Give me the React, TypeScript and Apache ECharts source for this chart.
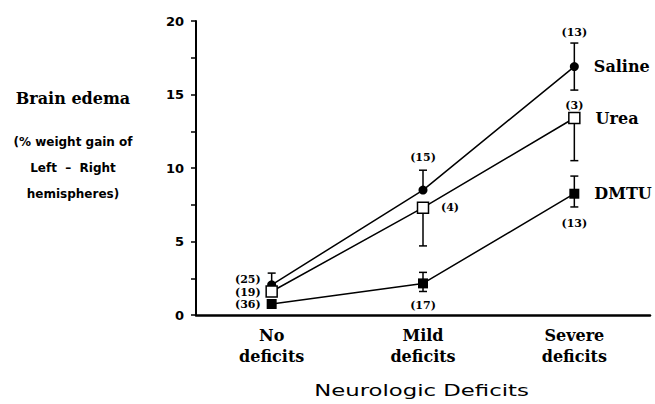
import React, { useEffect, useRef } from "react";
import * as echarts from "echarts";

const categories = ["No\ndeficits", "Mild\ndeficits", "Severe\ndeficits"];
const yTickValues = { min: 0, max: 20, interval: 5 };

const salineMean = [2.05, 8.5, 16.9];
const salineUpper = [2.85, 9.85, 18.5];
const salineLower: (number | null)[] = [null, null, 15.3];
const salineN = ["(25)", "(15)", "(13)"];

const ureaMean = [1.6, 7.3, 13.4];
const ureaUpper: (number | null)[] = [null, null, null];
const ureaLower: (number | null)[] = [null, 4.7, 10.5];
const ureaN = ["(19)", "(4)", "(3)"];

const dmtuMean = [0.75, 2.15, 8.25];
const dmtuUpper: (number | null)[] = [null, 2.9, 9.45];
const dmtuLower: (number | null)[] = [null, 1.6, 7.35];
const dmtuN = ["(36)", "(17)", "(13)"];

const SERIF = '"DejaVu Serif", "Liberation Serif", serif';
const SANS = '"DejaVu Sans", "Liberation Sans", sans-serif';

type Spec = { base: "m" | "hi" | "lo"; dx: number; dy: number; align: string };

const salineSpec: Spec[] = [
  { base: "m", dx: -11, dy: -5, align: "right" },
  { base: "hi", dx: 0, dy: -13, align: "center" },
  { base: "hi", dx: 0, dy: -11, align: "center" },
];
const ureaSpec: Spec[] = [
  { base: "m", dx: -11, dy: 1, align: "right" },
  { base: "m", dx: 18, dy: 0, align: "left" },
  { base: "m", dx: 0, dy: -13, align: "center" },
];
const dmtuSpec: Spec[] = [
  { base: "m", dx: -11, dy: 1, align: "right" },
  { base: "lo", dx: 0, dy: 14, align: "center" },
  { base: "lo", dx: 0, dy: 17, align: "center" },
];

function errSeries(
  name: string,
  mean: number[],
  upper: (number | null)[],
  lower: (number | null)[],
  counts: string[],
  spec: Spec[]
) {
  return {
    type: "custom",
    name: name + " err",
    z: 1,
    data: mean.map((v, i) => [i, v]),
    encode: { x: 0, y: 1 },
    renderItem: (params: any, api: any) => {
      const i = params.dataIndex;
      const [x, ym] = api.coord([i, mean[i]]);
      const ls = { stroke: "#000", lineWidth: 1.5 };
      const cap = 4;
      const children: any[] = [];
      let yHi = ym;
      let yLo = ym;
      const up = upper[i];
      if (up != null) {
        yHi = api.coord([i, up])[1];
        children.push({ type: "line", shape: { x1: x, y1: ym, x2: x, y2: yHi }, style: ls });
        children.push({ type: "line", shape: { x1: x - cap, y1: yHi, x2: x + cap, y2: yHi }, style: ls });
      }
      const lo = lower[i];
      if (lo != null) {
        yLo = api.coord([i, lo])[1];
        children.push({ type: "line", shape: { x1: x, y1: ym, x2: x, y2: yLo }, style: ls });
        children.push({ type: "line", shape: { x1: x - cap, y1: yLo, x2: x + cap, y2: yLo }, style: ls });
      }
      const sp = spec[i];
      const by = sp.base === "hi" ? yHi : sp.base === "lo" ? yLo : ym;
      children.push({
        type: "text",
        style: {
          text: counts[i],
          x: x + sp.dx,
          y: by + sp.dy,
          textAlign: sp.align,
          textVerticalAlign: "middle",
          font: `bold 11px ${SERIF}`,
          fill: "#000",
        },
      });
      return { type: "group", children };
    },
  };
}

function lineSeries(name: string, mean: number[], symbol: string, size: number, hollow: boolean) {
  return {
    type: "line",
    name,
    z: 3,
    symbol,
    symbolSize: size,
    showAllSymbol: true,
    lineStyle: { color: "#000", width: 1.5 },
    itemStyle: hollow
      ? { color: "#fff", borderColor: "#000", borderWidth: 1.5 }
      : { color: "#000", borderColor: "#000", borderWidth: 0 },
    data: mean.map((v, i) =>
      i === mean.length - 1
        ? {
            value: v,
            label: {
              show: true,
              position: "right",
              distance: 15,
              formatter: name,
              fontFamily: SERIF,
              fontWeight: "bold",
              fontSize: 16,
              color: "#000",
            },
          }
        : v
    ),
  };
}

export default function App() {
  const ref = useRef<HTMLDivElement>(null);
  useEffect(() => {
    if (!ref.current) return;
    const chart = echarts.init(ref.current, null, { renderer: "svg" });
    chart.setOption({
      animation: false,
      backgroundColor: "#fff",
      grid: { left: 196, right: 5, top: 21, bottom: 89, containLabel: false },
      xAxis: {
        type: "category",
        data: categories,
        boundaryGap: true,
        axisLine: { lineStyle: { color: "#000", width: 2.5 } },
        axisTick: { show: false },
        axisLabel: {
          margin: 10,
          color: "#000",
          fontFamily: SERIF,
          fontWeight: "bold",
          fontSize: 16,
          lineHeight: 21,
        },
        splitLine: { show: false },
      },
      yAxis: {
        type: "value",
        min: yTickValues.min,
        max: yTickValues.max,
        interval: yTickValues.interval,
        axisLine: { show: true, lineStyle: { color: "#000", width: 2 } },
        axisTick: { show: true, length: 5, lineStyle: { color: "#000", width: 1.5 } },
        minorTick: { show: true, splitNumber: 2, length: 5, lineStyle: { color: "#000", width: 1.5 } },
        axisLabel: {
          margin: 12,
          color: "#000",
          fontFamily: SANS,
          fontWeight: "bold",
          fontSize: 13,
        },
        splitLine: { show: false },
        minorSplitLine: { show: false },
      },
      graphic: [
        {
          type: "text",
          x: 73,
          y: 98,
          style: {
            text: "Brain edema",
            textAlign: "center",
            textVerticalAlign: "middle",
            font: `bold 16px ${SERIF}`,
            fill: "#000",
          },
        },
        {
          type: "text",
          x: 73,
          y: 142,
          style: {
            text: "(% weight gain of",
            textAlign: "center",
            textVerticalAlign: "middle",
            font: `bold 12px ${SANS}`,
            fill: "#000",
          },
        },
        {
          type: "text",
          x: 73,
          y: 168,
          style: {
            text: "Left  \u2013  Right",
            textAlign: "center",
            textVerticalAlign: "middle",
            font: `bold 12px ${SANS}`,
            fill: "#000",
          },
        },
        {
          type: "text",
          x: 73,
          y: 194,
          style: {
            text: "hemispheres)",
            textAlign: "center",
            textVerticalAlign: "middle",
            font: `bold 12px ${SANS}`,
            fill: "#000",
          },
        },
        {
          type: "text",
          x: 421.5,
          y: 391,
          scaleX: 1.52,
          style: {
            text: "Neurologic Deficits",
            textAlign: "center",
            textVerticalAlign: "middle",
            font: `15px ${SANS}`,
            fill: "#000",
          },
        },
      ],
      series: [
        errSeries("Saline", salineMean, salineUpper, salineLower, salineN, salineSpec),
        errSeries("Urea", ureaMean, ureaUpper, ureaLower, ureaN, ureaSpec),
        errSeries("DMTU", dmtuMean, dmtuUpper, dmtuLower, dmtuN, dmtuSpec),
        lineSeries("Saline", salineMean, "circle", 9, false),
        lineSeries("Urea", ureaMean, "rect", 11, true),
        lineSeries("DMTU", dmtuMean, "rect", 10, false),
      ],
    });
    return () => chart.dispose();
  }, []);
  return <div ref={ref} style={{ width: 655, height: 404, position: "fixed", left: 0, top: 0 }} />;
}
